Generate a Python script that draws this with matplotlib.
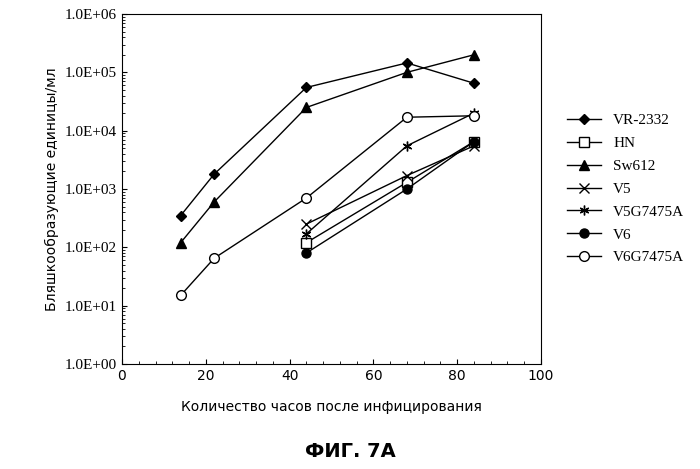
import numpy as np
import matplotlib
matplotlib.use("Agg")
import matplotlib.pyplot as plt
from matplotlib.ticker import FixedLocator, FixedFormatter, LogLocator, NullFormatter

hours_full = [14, 22, 44, 68, 84]
hours_late = [44, 68, 84]

vr2332 = [350, 1800, 55000, 145000, 65000]
hn = [120, 1300, 6500]
sw612 = [120, 600, 25000, 100000, 200000]
v5 = [250, 1700, 5500]
v5g = [170, 5500, 20000]
v6 = [80, 1000, 6500]
v6g = [15, 65, 700, 17000, 18000]

y_ticks = [1, 10, 100, 1e3, 1e4, 1e5, 1e6]
y_labels = ["1.0E+00", "1.0E+01", "1.0E+02", "1.0E+03", "1.0E+04", "1.0E+05", "1.0E+06"]

fig = plt.figure(figsize=(7, 4.69), dpi=100)
ax = fig.add_axes([122 / 700, 1 - 364 / 469, 419 / 700, 350 / 469])

kw = dict(color="black", linewidth=1.0)
ax.plot(hours_full, vr2332, marker="D", markersize=5, label="VR-2332", **kw)
ax.plot(hours_late, hn, marker="s", markersize=6.5, markerfacecolor="white", label="HN", **kw)
ax.plot(hours_full, sw612, marker="^", markersize=7, label="Sw612", **kw)
ax.plot(hours_late, v5, marker="x", markersize=7, label="V5", **kw)
ax.plot(hours_late, v5g, marker=(6, 2, 0), markersize=7, label="V5G7475A", **kw)
ax.plot(hours_late, v6, marker="o", markersize=6.5, label="V6", **kw)
ax.plot(hours_full, v6g, marker="o", markersize=7, markerfacecolor="white", label="V6G7475A", **kw)

ax.set_yscale("log")
ax.set_ylim(1, 1e6)
ax.set_xlim(0, 100)
ax.yaxis.set_major_locator(FixedLocator(y_ticks))
ax.yaxis.set_major_formatter(FixedFormatter(y_labels))
ax.yaxis.set_minor_locator(LogLocator(subs=np.arange(2, 10)))
ax.yaxis.set_minor_formatter(NullFormatter())
ax.set_xticks(range(0, 101, 20))
ax.set_xticks(range(0, 101, 4), minor=True)
ax.tick_params(which="both", direction="in")
for lab in ax.get_yticklabels():
    lab.set_fontfamily("Liberation Serif")
    lab.set_fontsize(11)
for lab in ax.get_xticklabels():
    lab.set_fontsize(10)

ax.set_ylabel("Бляшкообразующие единицы/мл", fontsize=10)
ax.set_xlabel("Количество часов после инфицирования", fontsize=10, labelpad=12)
fig.text(0.5, 0.025, "ФИГ. 7А", ha="center", fontsize=14, fontweight="bold")

ax.legend(loc="center left", bbox_to_anchor=(1.03, 0.5), frameon=False,
          prop={"family": "Liberation Serif", "size": 11}, labelspacing=0.6, handlelength=2.2)

fig.savefig("out.png", dpi=100)
